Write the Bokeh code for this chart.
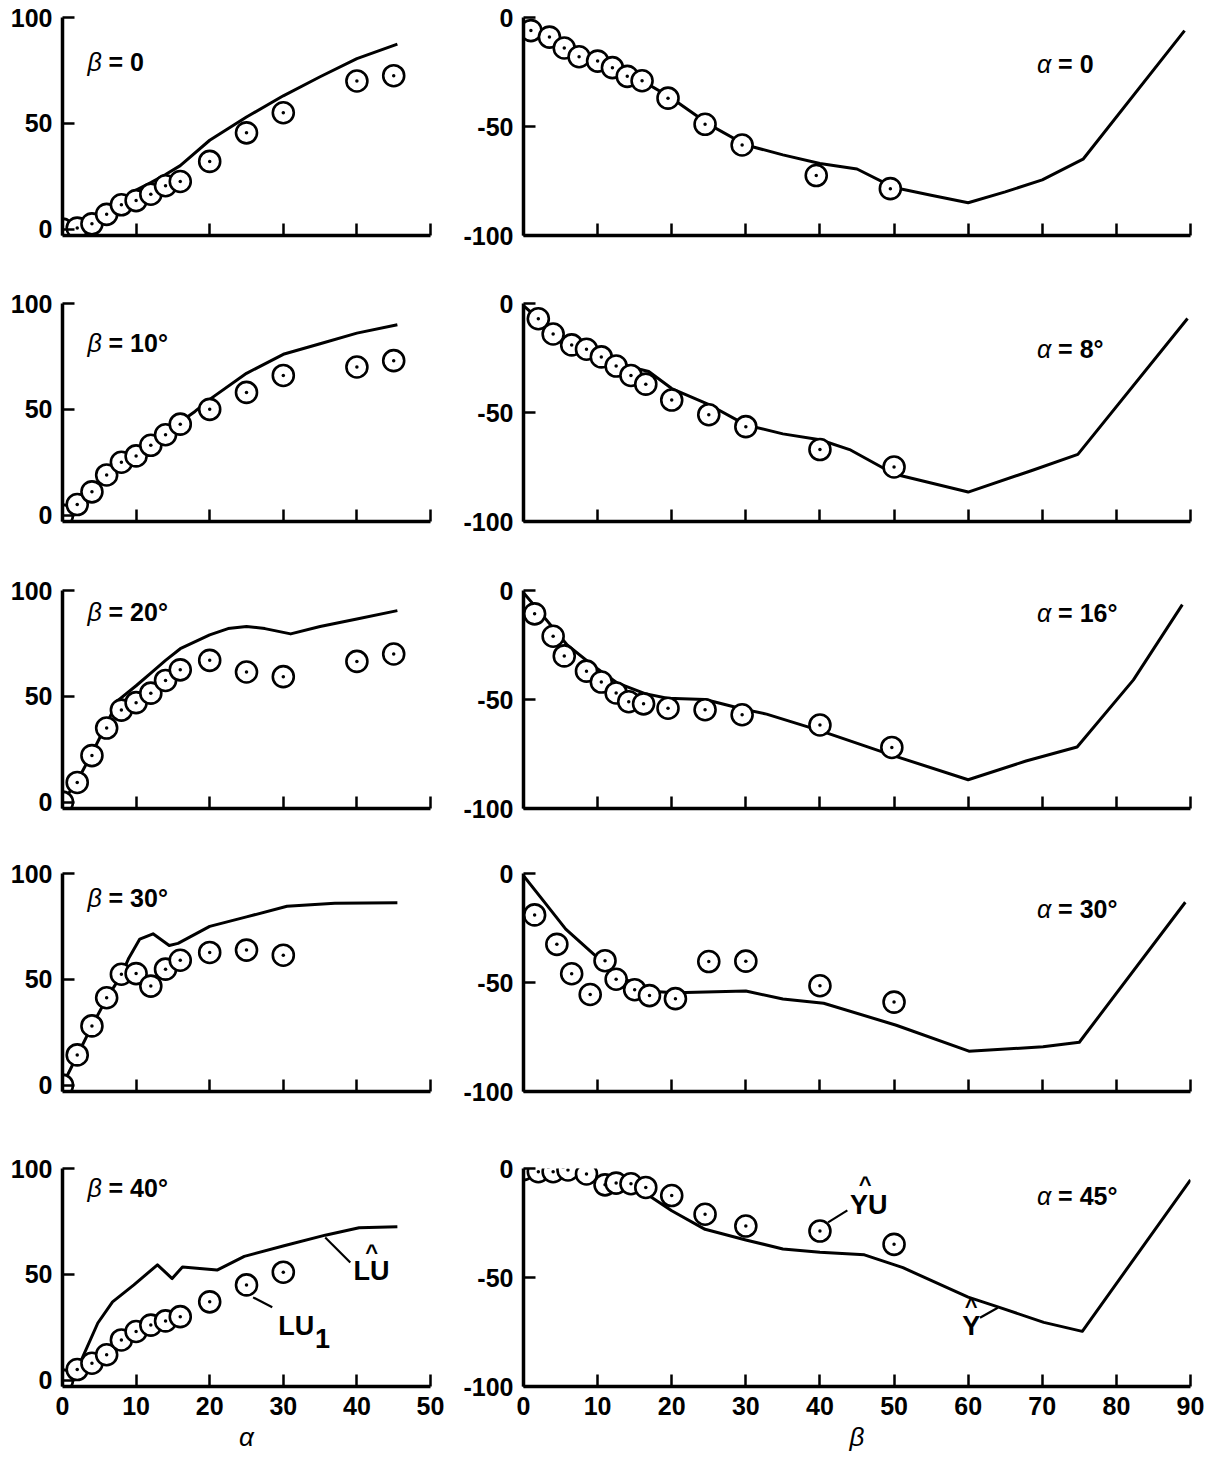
from bokeh.plotting import figure
from bokeh.layouts import gridplot
from bokeh.models import Range1d, FixedTicker, CustomJSTickFormatter
from bokeh.core.properties import value
from bokeh.embed import file_html
from bokeh.resources import INLINE

FONT = "Liberation Sans"

# ---------------- left column: LU versus alpha at fixed beta ----------------
beta_titles = ["0", "10°", "20°", "30°", "40°"]

lu1_alpha_b0 = [0, 2, 4, 6, 8, 10, 12, 14, 16, 20, 25, 30, 40, 45]
lu1_b0 = [0, 0.5, 2.5, 7, 11.5, 13.5, 16.5, 20.5, 22.5, 32, 45.5, 55, 70, 72.5]
lu_alpha_b0 = [0, 4, 8, 10, 12, 14, 16, 20, 25, 30, 35, 40, 45.5]
lu_b0 = [0, 6, 13, 18.5, 22, 25.8, 30, 42, 53, 63, 72, 80.6, 87.4]

lu1_alpha_b10 = [0, 2, 4, 6, 8, 10, 12, 14, 16, 20, 25, 30, 40, 45]
lu1_b10 = [0, 5, 11, 19, 25, 28, 33, 38, 43, 50, 58, 66, 70, 73]
lu_alpha_b10 = [0, 2, 4, 6, 8, 10, 12, 14, 16, 18, 20, 25, 30, 35, 40, 45.5]
lu_b10 = [0, 5, 11, 19, 25, 29, 34, 39, 44, 49, 54.7, 67, 76, 81, 86, 90]

lu1_alpha_b20 = [0, 2, 4, 6, 8, 10, 12, 14, 16, 20, 25, 30, 40, 45]
lu1_b20 = [0, 9.3, 22, 35, 43.5, 47, 51.5, 57.5, 62.5, 67, 61.5, 59.3, 66.5, 70]
lu_alpha_b20 = [0, 2, 4, 6, 7.5, 10, 12, 14, 16, 20, 22.5, 25, 27.5, 31, 35, 40, 45.5]
lu_b20 = [0, 10, 23, 37, 48, 55, 61, 67, 72.5, 79, 82, 83, 82, 79.5, 83, 86.5, 90.5]

lu1_alpha_b30 = [0, 2, 4, 6, 8, 10, 12, 14, 16, 20, 25, 30]
lu1_b30 = [0, 14.3, 28, 41.3, 52.4, 52.7, 46.8, 54.8, 59, 62.7, 63.8, 61.4]
lu_alpha_b30 = [0, 2, 4, 6, 8, 9, 10.5, 12.3, 14.5, 15.7, 20, 25, 30.5, 37, 45.5]
lu_b30 = [0, 14, 28, 41, 52, 60, 69, 71.5, 66, 67, 75, 79.5, 84.5, 86, 86.2]

lu1_alpha_b40 = [0, 2, 4, 6, 8, 10, 12, 14, 16, 20, 25, 30]
lu1_b40 = [0, 5, 8, 12, 19, 23, 26, 28, 30, 37, 45, 51]
lu_alpha_b40 = [0, 2.5, 4.8, 6.8, 9.7, 12.9, 14.9, 16.3, 21, 24.7, 30.1, 35.7, 40.3, 45.5]
lu_b40 = [0, 9, 27, 37, 45, 54.5, 48, 53.5, 52, 58.5, 63.5, 68.5, 72, 72.5]

# ---------------- right column: YU versus beta at fixed alpha ----------------
alpha_titles = ["0", "8°", "16°", "30°", "45°"]

yu_beta_a0 = [1, 3.5, 5.5, 7.5, 10, 12, 14, 16, 19.5, 24.5, 29.5, 39.5, 49.5]
yu_a0 = [-6, -9, -14, -18, -20, -23, -27, -29, -37, -49, -58.5, -72.5, -78.5]
y_beta_a0 = [0, 5, 10, 16, 20, 25, 30, 35, 40, 45, 50, 55, 60, 65, 70, 75.5, 89.2]
y_a0 = [-2, -13, -20, -29, -37, -49, -58.5, -63, -67, -69.5, -78, -81.5, -85, -80, -74.5, -65, -6]

yu_beta_a8 = [2, 4, 6.5, 8.5, 10.5, 12.5, 14.5, 16.5, 20, 25, 30, 40, 50]
yu_a8 = [-7, -14, -19, -21, -24.5, -28.7, -33, -37, -44.3, -51, -56.5, -67, -75]
y_beta_a8 = [0, 4, 8, 12, 14.3, 16.9, 20, 24.8, 30, 35, 40, 44, 50, 60, 68.5, 74.8, 89.6]
y_a8 = [-1, -13, -20, -27, -29, -31.2, -39, -46, -55.7, -59.8, -62.5, -67, -78.2, -86.5, -76.7, -69.2, -6.9]

yu_beta_a16 = [1.5, 4, 5.5, 8.5, 10.5, 12.5, 14.2, 16.2, 19.5, 24.5, 29.5, 40, 49.7]
yu_a16 = [-10.7, -21, -30, -37, -42, -47, -51, -52, -54, -54.7, -57, -61.7, -72]
y_beta_a16 = [0, 2, 5.9, 9.6, 12.7, 16.4, 19.4, 24.5, 29.7, 32.8, 40, 49.7, 60, 67.8, 74.7, 82.3, 88.9]
y_a16 = [-1, -9, -25, -35, -42.5, -47.3, -49.4, -50, -54.5, -56.7, -64.3, -75.5, -86.8, -78.2, -71.8, -41, -6.5]

yu_beta_a30 = [1.5, 4.5, 6.5, 9, 11, 12.5, 15, 17, 20.5, 25, 30, 40, 50]
yu_a30 = [-19, -32.5, -46, -55.5, -40, -48.5, -53.3, -56, -57.4, -40.4, -40.2, -51.5, -59]
y_beta_a30 = [0, 2.8, 5.7, 9.8, 12.5, 17, 20.5, 30, 35, 40.5, 50.3, 60.1, 70.1, 75, 89.3]
y_a30 = [-1, -13, -25.5, -38, -46.4, -54, -54.7, -53.9, -57.6, -59.5, -69.6, -81.5, -79.5, -77.4, -13.2]

yu_beta_a45 = [0, 2, 4, 6, 8.5, 11, 12.5, 14.5, 16.5, 20, 24.5, 30, 40, 50]
yu_a45 = [-0.5, -1.5, -1.5, -0.7, -2.5, -7.5, -6.7, -7, -8.7, -12.4, -21, -26.4, -28.7, -34.8]
y_beta_a45 = [0, 4, 8, 12, 16.4, 20, 24.5, 30, 35, 40, 46, 51.2, 60, 63.7, 70.2, 75.4, 90]
y_a45 = [-1, -2, -4, -7.5, -11.2, -19.4, -27.9, -32.8, -36.9, -38.4, -39.6, -45.5, -59, -63.1, -70.6, -74.7, -5.2]

left_series = [
    (lu1_alpha_b0, lu1_b0, lu_alpha_b0, lu_b0),
    (lu1_alpha_b10, lu1_b10, lu_alpha_b10, lu_b10),
    (lu1_alpha_b20, lu1_b20, lu_alpha_b20, lu_b20),
    (lu1_alpha_b30, lu1_b30, lu_alpha_b30, lu_b30),
    (lu1_alpha_b40, lu1_b40, lu_alpha_b40, lu_b40),
]
right_series = [
    (yu_beta_a0, yu_a0, y_beta_a0, y_a0),
    (yu_beta_a8, yu_a8, y_beta_a8, y_a8),
    (yu_beta_a16, yu_a16, y_beta_a16, y_a16),
    (yu_beta_a30, yu_a30, y_beta_a30, y_a30),
    (yu_beta_a45, yu_a45, y_beta_a45, y_a45),
]

left_ticks_x = [0, 10, 20, 30, 40, 50]
left_ticks_y = [0, 50, 100]
right_ticks_x = [0, 10, 20, 30, 40, 50, 60, 70, 80, 90]
right_ticks_y = [-100, -50, 0]

# panel title anchor heights (data units) for each row
left_title_y = [79, 81.5, 90, 88.6, 90.6]
right_title_y = [-21.5, -21, -10.5, -16.4, -12.8]

# layout: figure heights for each row
ROW_H = [286, 287, 283, 295, 308]
TOP = 17
FRAME_H = 218
LEFT_W, RIGHT_W = 460, 749

# plain hyphen-minus for negative tick values
PLAIN = "return String(tick)"


def style_axes(p, bottom_row, xticks, yticks, xlabel):
    for ax in (p.xaxis[0], p.yaxis[0]):
        ax.axis_line_width = 3.5
        ax.axis_line_color = "black"
        ax.major_tick_line_width = 2.5
        ax.major_tick_line_color = "black"
        ax.major_tick_in = 12
        ax.major_tick_out = 0
        ax.minor_tick_line_color = None
        ax.major_label_text_font = FONT
        ax.major_label_text_font_style = "bold"
        ax.major_label_text_font_size = "25px"
        ax.major_label_text_color = "black"
        ax.major_label_standoff = 10
    p.xaxis[0].ticker = FixedTicker(ticks=xticks)
    p.yaxis[0].ticker = FixedTicker(ticks=yticks)
    p.yaxis[0].formatter = CustomJSTickFormatter(code=PLAIN)
    if bottom_row:
        p.xaxis[0].formatter = CustomJSTickFormatter(code=PLAIN)
        p.xaxis[0].axis_label = xlabel
        p.xaxis[0].axis_label_text_font = FONT
        p.xaxis[0].axis_label_text_font_style = "italic"
        p.xaxis[0].axis_label_text_font_size = "26px"
        p.xaxis[0].axis_label_text_color = "black"
        p.xaxis[0].axis_label_standoff = 4
    else:
        p.xaxis[0].formatter = CustomJSTickFormatter(code="return ''")
    p.xgrid.visible = False
    p.ygrid.visible = False
    p.outline_line_color = None


def make_panel(width, height, left_b, right_b, xr, yr):
    return figure(width=width, height=height,
                  x_range=Range1d(*xr), y_range=Range1d(*yr),
                  min_border_left=left_b, min_border_right=right_b,
                  min_border_top=TOP, min_border_bottom=height - TOP - FRAME_H,
                  output_backend="svg", toolbar_location=None,
                  background_fill_color="white", border_fill_color="white")


def draw_series(p, cx, cy, lx, ly):
    p.line(lx, ly, line_color="black", line_width=3, line_join="round")
    p.scatter(cx, cy, marker="circle", size=21, fill_color="white",
              line_color="black", line_width=2.6)
    p.scatter(cx, cy, marker="circle", size=3.5, fill_color="black", line_color=None)


def title(p, x, y, greek, rest, offset):
    p.text(x=[x], y=[y], text=[greek], text_font=value(FONT),
           text_font_style="italic", text_font_size="25px",
           text_baseline="middle", text_align="left", text_color="black")
    p.text(x=[x], y=[y], text=[rest], x_offset=offset, text_font=value(FONT),
           text_font_style="bold", text_font_size="25px",
           text_baseline="middle", text_align="left", text_color="black")


def label(p, x, y, s, size="25px", align="center", baseline="middle"):
    p.text(x=[x], y=[y], text=[s], text_font=value(FONT), text_font_style="bold",
           text_font_size=size, text_align=align, text_baseline=baseline,
           text_color="black")


rows = []
for i in range(5):
    bottom = i == 4
    h = ROW_H[i]

    lp = make_panel(LEFT_W, h, 62, 30, (0, 50), (-3, 100))
    style_axes(lp, bottom, left_ticks_x, left_ticks_y, "α")
    draw_series(lp, *left_series[i])
    title(lp, 3.4, left_title_y[i], "β", "= " + beta_titles[i], 21)

    rp = make_panel(RIGHT_W, h, 62, 19, (0, 90), (-100, 0))
    style_axes(rp, bottom, right_ticks_x, right_ticks_y, "β")
    draw_series(rp, *right_series[i])
    title(rp, 69.3, right_title_y[i], "α", "= " + alpha_titles[i], 21)

    if bottom:
        # curve and symbol identifiers
        lp.line([35.7, 39.1], [67.4, 55.6], line_color="black", line_width=2.2)
        label(lp, 42.0, 51.5, "LU", size="27px")
        label(lp, 42.0, 60.5, "^", size="22px")
        lp.line([25.9, 28.5], [39.1, 34.4], line_color="black", line_width=2.2)
        label(lp, 29.3, 25.8, "LU", size="27px", align="left")
        label(lp, 34.3, 19.5, "1", size="27px", align="left")

        rp.line([41.1, 43.7], [-24.7, -19.2], line_color="black", line_width=2.2)
        label(rp, 46.6, -16.6, "YU", size="27px")
        label(rp, 46.1, -7.2, "^", size="22px")
        rp.line([61.6, 64.0], [-68.5, -63.9], line_color="black", line_width=2.2)
        label(rp, 60.4, -72.3, "Y", size="27px")
        label(rp, 60.4, -63.5, "^", size="22px")

    rows.append([lp, rp])

grid = gridplot(rows, toolbar_location=None)

open("out.html", "w").write(file_html(grid, INLINE))
